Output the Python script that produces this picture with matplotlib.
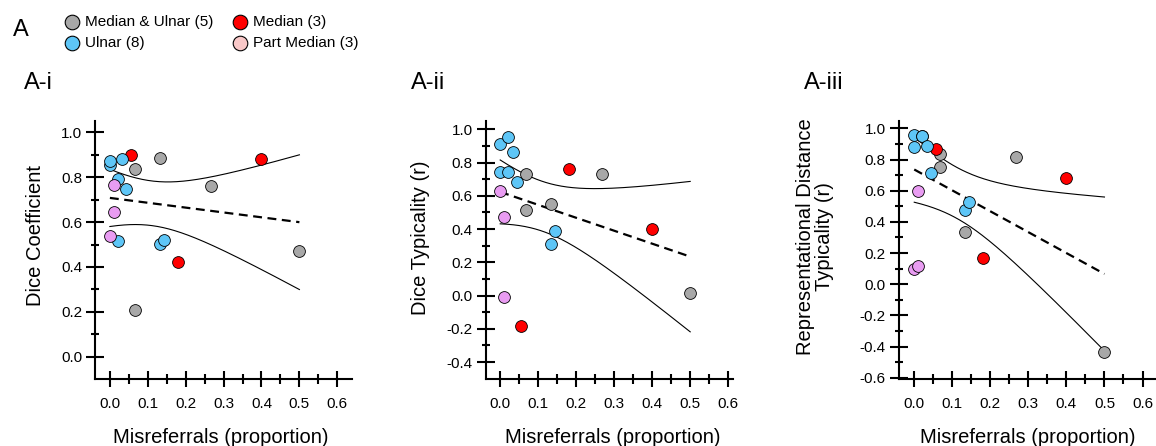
import numpy as np
import matplotlib
matplotlib.use('Agg')
import matplotlib.pyplot as plt
from matplotlib.lines import Line2D

plt.rcParams['font.family'] = ['Liberation Sans', 'DejaVu Sans']

# %%
# groups and colours
groups = ['Median & Ulnar (5)', 'Median (3)', 'Ulnar (8)', 'Part Median (3)']
colors = ['#a8a8a8', '#ff0000', '#5ec6f7', '#e99cf2']
legend_colors = ['#a8a8a8', '#ff0000', '#5ec6f7', '#f9c8c8']

# misreferral proportions (x) per group
x_med_uln = [0.067, 0.067, 0.133, 0.267, 0.5]
x_median = [0.056, 0.180, 0.4]
x_ulnar = [0.0, 0.0, 0.021, 0.021, 0.033, 0.043, 0.133, 0.143]
x_part = [0.0, 0.011, 0.011]

# A-i: Dice coefficient
dice_med_uln = [0.835, 0.208, 0.886, 0.761, 0.470]
dice_median = [0.899, 0.420, 0.881]
dice_ulnar = [0.855, 0.873, 0.792, 0.517, 0.880, 0.747, 0.502, 0.519]
dice_part = [0.538, 0.767, 0.643]

# A-ii: Dice typicality (r)
dtyp_med_uln = [0.731, 0.513, 0.553, 0.733, 0.017]
dtyp_median = [-0.181, 0.763, 0.402]
dtyp_ulnar = [0.914, 0.743, 0.956, 0.743, 0.862, 0.681, 0.310, 0.390]
dtyp_part = [0.631, 0.470, -0.009]

# A-iii: representational distance typicality (r)
rdt_x_ulnar = [0.0, 0.0, 0.021, 0.021, 0.034, 0.045, 0.134, 0.145]
rdt_med_uln = [0.837, 0.750, 0.337, 0.818, -0.435]
rdt_median = [0.867, 0.168, 0.679]
rdt_ulnar = [0.959, 0.880, 0.949, 0.950, 0.887, 0.715, 0.478, 0.529]
rdt_part = [0.095, 0.598, 0.119]

T_CRIT = 2.1098  # t(0.975, df=17)


# %%
def fit_band(ax, x, y):
    x = np.asarray(x)
    y = np.asarray(y)
    n = len(x)
    slope, icpt = np.polyfit(x, y, 1)
    resid = y - (icpt + slope * x)
    s = np.sqrt(np.sum(resid ** 2) / (n - 2))
    sxx = np.sum((x - x.mean()) ** 2)
    xs = np.linspace(x.min(), x.max(), 200)
    yh = icpt + slope * xs
    half = T_CRIT * s * np.sqrt(1.0 / n + (xs - x.mean()) ** 2 / sxx)
    ax.plot(xs, yh, color='black', lw=1.6, dashes=(4, 2.5), zorder=2)
    ax.plot(xs, yh + half, color='black', lw=0.8, zorder=2)
    ax.plot(xs, yh - half, color='black', lw=0.8, zorder=2)


def make_panel(rect, xs, ys, xlim, ylim, yticks, ylabel, ylab_xy, xlab_x, title, title_x):
    ax = fig.add_axes(rect)
    for x, y, c in zip(xs, ys, colors):
        ax.scatter(x, y, s=72, color=c, edgecolor='black', linewidth=0.6, zorder=3, clip_on=False)
    fit_band(ax, np.concatenate(xs), np.concatenate(ys))

    ax.set_xlim(*xlim)
    ax.set_ylim(*ylim)
    ax.set_xticks(np.arange(0, 0.61, 0.1))
    ax.set_xticks(np.arange(0.05, 0.6, 0.1), minor=True)
    ax.set_yticks(yticks)
    ax.set_yticks(np.arange(yticks[0] + 0.1, yticks[-1], 0.2), minor=True)
    ax.set_xticklabels(['{:.1f}'.format(v) for v in np.arange(0, 0.61, 0.1)])
    ax.set_yticklabels(['{:.1f}'.format(v) for v in yticks])
    for s in ['top', 'right']:
        ax.spines[s].set_visible(False)
    for s in ['left', 'bottom']:
        ax.spines[s].set_linewidth(1.5)
    ax.tick_params(axis='y', which='major', direction='inout', length=13, width=1.5, pad=3, labelsize=11)
    ax.tick_params(axis='y', which='minor', direction='inout', length=6, width=1.5)
    ax.tick_params(axis='x', which='major', direction='inout', length=12, width=1.5, pad=7, labelsize=11)
    ax.tick_params(axis='x', which='minor', direction='inout', length=6.5, width=1.5)

    ax.set_ylabel(ylabel, fontsize=14.5, va='center', ha='center', linespacing=1.0)
    ax.yaxis.set_label_coords(*ylab_xy)
    ax.set_xlabel('Misreferrals (proportion)', fontsize=14.5, va='center')
    ax.xaxis.set_label_coords(xlab_x, -0.228)
    fig.text(title_x, 0.79, title, fontsize=17, va='bottom')
    return ax


# %%
fig = plt.figure(figsize=(11.56, 4.46), dpi=100)
bot, hgt = 0.1513, 0.5763

make_panel([0.0826, bot, 0.2223, hgt],
           [x_med_uln, x_median, x_ulnar, x_part],
           [dice_med_uln, dice_median, dice_ulnar, dice_part],
           (-0.038, 0.64), (-0.097, 1.048), np.arange(0, 1.01, 0.2),
           'Dice Coefficient', (-0.235, 0.558), 0.488, 'A-i', 0.021)

make_panel([0.4202, bot, 0.2140, hgt],
           [x_med_uln, x_median, x_ulnar, x_part],
           [dtyp_med_uln, dtyp_median, dtyp_ulnar, dtyp_part],
           (-0.038, 0.613), (-0.499, 1.047), np.arange(-0.4, 1.01, 0.2),
           'Dice Typicality (r)', (-0.262, 0.549), 0.515, 'A-ii', 0.3555)

make_panel([0.7777, bot, 0.2238, hgt],
           [x_med_uln, x_median, rdt_x_ulnar, x_part],
           [rdt_med_uln, rdt_median, rdt_ulnar, rdt_part],
           (-0.04, 0.64), (-0.605, 1.044), np.arange(-0.6, 1.01, 0.2),
           'Representational Distance\nTypicality (r)', (-0.325, 0.554), 0.499, 'A-iii', 0.6955)

# legend drawn by hand at the top
fig.text(0.011, 0.933, 'A', fontsize=17, va='center')
leg_pos = [(0.062, 0.951), (0.2076, 0.951), (0.062, 0.903), (0.2076, 0.903)]
for (lx, ly), name, c in zip(leg_pos, groups, legend_colors):
    fig.add_artist(Line2D([lx], [ly], marker='o', markersize=10.5, markerfacecolor=c,
                          markeredgecolor='black', markeredgewidth=0.8, transform=fig.transFigure))
    fig.text(lx + 0.0115, ly, name, fontsize=11, va='center')

fig.savefig('out.png', dpi=100)
